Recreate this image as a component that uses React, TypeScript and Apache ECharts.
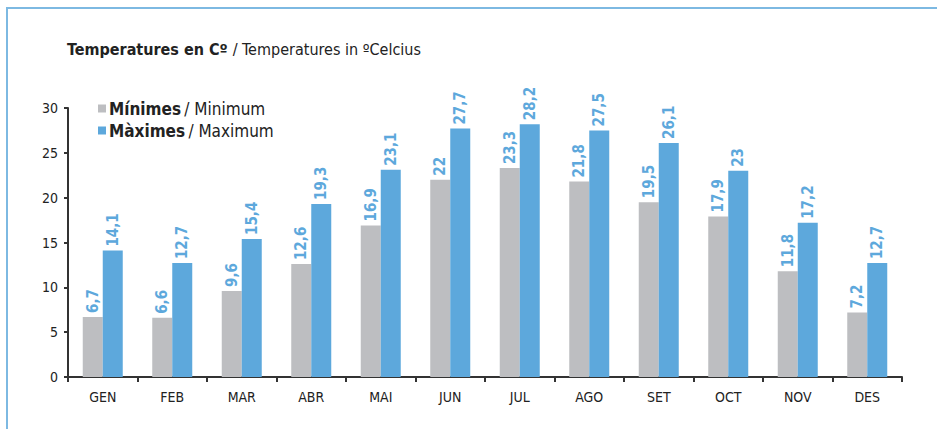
import React, { useEffect, useRef } from "react";
import * as echarts from "echarts";

const months = ["GEN", "FEB", "MAR", "ABR", "MAI", "JUN", "JUL", "AGO", "SET", "OCT", "NOV", "DES"];
const minimes = [6.7, 6.6, 9.6, 12.6, 16.9, 22, 23.3, 21.8, 19.5, 17.9, 11.8, 7.2];
const maximes = [14.1, 12.7, 15.4, 19.3, 23.1, 27.7, 28.2, 27.5, 26.1, 23, 17.2, 12.7];
const seriesNames = ["Mínimes", "Màximes"];
const seriesNamesEn = ["Minimum", "Maximum"];

const FONT = "'Liberation Sans Narrow', 'DejaVu Sans Condensed', 'Liberation Sans', sans-serif";
const GRAY = "#BDBEC1";
const BLUE = "#5DA8DC";

const fmt = (v: number) => String(v).replace(".", ",");

export default function App() {
  const ref = useRef<HTMLDivElement>(null);
  useEffect(() => {
    document.body.style.margin = "0";
    const chart = echarts.init(ref.current!, null, { renderer: "svg" });
    const label = {
      show: true,
      position: "top" as const,
      rotate: 90,
      align: "left" as const,
      verticalAlign: "middle" as const,
      distance: 4,
      color: BLUE,
      fontFamily: FONT,
      fontWeight: "bold" as const,
      fontSize: 15,
      formatter: (p: any) => fmt(p.value),
    };
    chart.setOption({
      animation: false,
      backgroundColor: "#fff",
      title: {
        text: "{b|Temperatures en Cº} {n|/ Temperatures in ºCelcius}",
        left: 62,
        top: 35,
        textStyle: {
          fontWeight: "normal",
          rich: {
            b: { fontFamily: FONT, fontWeight: "bold", fontSize: 16, color: "#222" },
            n: { fontFamily: FONT, fontWeight: "normal", fontSize: 16, color: "#222" },
          },
        },
      },
      graphic: [
        {
          type: "rect",
          shape: { x: 7, y: 8, width: 1000, height: 600 },
          style: { fill: "none", stroke: "#7DB9E2", lineWidth: 2 },
          silent: true,
        },
      ],
      legend: {
        orient: "vertical",
        left: 93,
        top: 95,
        itemWidth: 8,
        itemHeight: 8,
        itemGap: 5,
        icon: "rect",
        data: seriesNames,
        formatter: (name: string) => {
          const i = seriesNames.indexOf(name);
          return `{b|${name}} {n|/ ${seriesNamesEn[i]}}`;
        },
        textStyle: {
          padding: [0, 0, 0, -2],
          rich: {
            b: { fontFamily: FONT, fontWeight: "bold", fontSize: 17, color: "#222" },
            n: { fontFamily: FONT, fontWeight: "normal", fontSize: 17, color: "#222" },
          },
        },
      },
      grid: { left: 68, top: 108, right: 35, bottom: 52 },
      xAxis: {
        type: "category",
        data: months,
        axisLine: { lineStyle: { color: "#333", width: 2 } },
        axisTick: { show: true, length: 5, lineStyle: { color: "#333", width: 2 } },
        axisLabel: { color: "#222", fontFamily: FONT, fontSize: 14, margin: 13 },
      },
      yAxis: {
        type: "value",
        min: 0,
        max: 30,
        interval: 5,
        splitLine: { show: false },
        axisLine: { show: true, lineStyle: { color: "#333", width: 2 } },
        axisTick: { show: true, length: 4, lineStyle: { color: "#333", width: 2 } },
        axisLabel: { color: "#222", fontFamily: FONT, fontSize: 14, margin: 10 },
      },
      series: [
        {
          name: seriesNames[0],
          type: "bar",
          data: minimes,
          barWidth: 20,
          barGap: "0%",
          itemStyle: { color: GRAY },
          label,
        },
        {
          name: seriesNames[1],
          type: "bar",
          data: maximes,
          barWidth: 20,
          itemStyle: { color: BLUE },
          label,
        },
      ],
    });
    return () => chart.dispose();
  }, []);
  return <div ref={ref} style={{ width: 937, height: 429 }} />;
}
